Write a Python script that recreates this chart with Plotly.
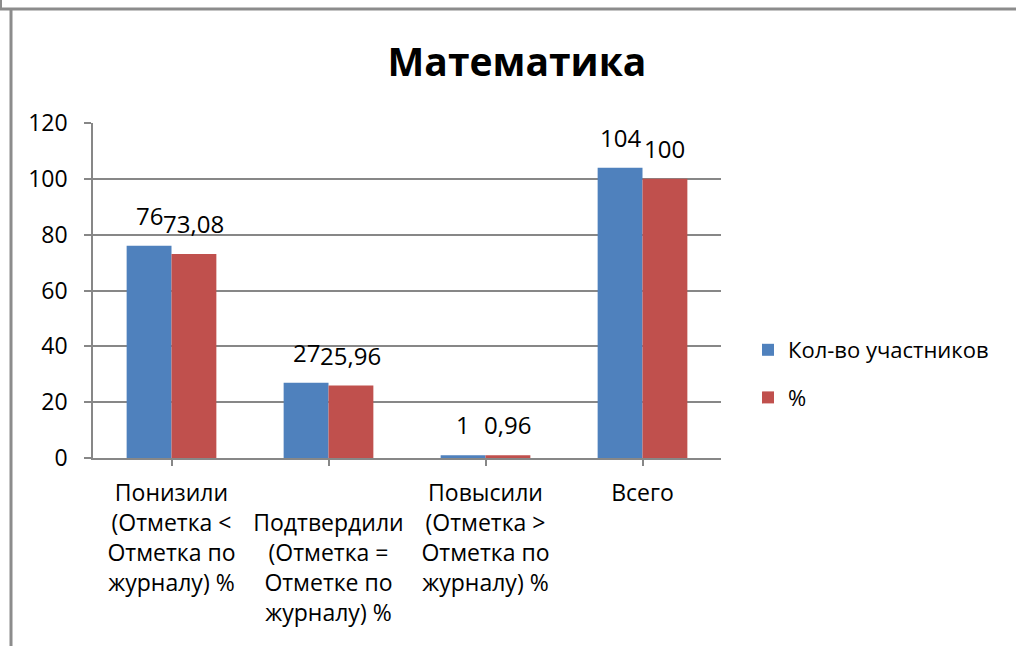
import plotly.graph_objects as go

# Chart data
categories = [
    "Понизили<br>(Отметка <<br>Отметка по<br>журналу) %",
    "\u00a0<br>Подтвердили<br>(Отметка =<br>Отметке по<br>журналу) %",
    "Повысили<br>(Отметка ><br>Отметка по<br>журналу) %",
    "Всего",
]
participants = [76, 27, 1, 104]
percent = [73.08, 25.96, 0.96, 100]
series_names = ["Кол-во участников", "%"]
y_ticks = [0, 20, 40, 60, 80, 100, 120]

FONT = "Open Sans"
GRID = "#878787"
BLUE = "#4F81BD"
RED = "#C0504D"
BARGAP = 1.5 / 3.5


def fmt(v):
    return f"{v:g}".replace(".", ",")


x_idx = list(range(len(categories)))

fig = go.Figure()
fig.add_trace(go.Bar(
    x=x_idx, y=participants, name=series_names[0],
    marker=dict(color=BLUE, line=dict(width=0)),
    legendgroup="a",
))
fig.add_trace(go.Bar(
    x=x_idx, y=percent, name=series_names[1],
    marker=dict(color=RED, line=dict(width=0)),
    legendgroup="b",
))

# value labels above each bar (half a bar width either side of the category)
half = (1 - BARGAP) / 4
for series, off in ((participants, -half), (percent, half)):
    for i, v in zip(x_idx, series):
        fig.add_annotation(
            x=i + off, y=v, xref="x", yref="y", text=fmt(v),
            showarrow=False, xanchor="center", yanchor="bottom", yshift=12,
            font=dict(family=FONT, size=24, color="#000000"),
        )

# plot area spans x 93..721, y 123..458 px
px_w, px_h = 721 - 93, 458 - 123


def xp(p):
    return (p - 93) / px_w


def yp(p):
    return (458 - p) / px_h


fig.update_layout(
    width=1016, height=646,
    margin=dict(l=93, r=1016 - 721, t=123, b=646 - 458, autoexpand=False),
    paper_bgcolor="white", plot_bgcolor="white",
    barmode="group", bargap=BARGAP, bargroupgap=0,
    font=dict(family=FONT, size=22, color="#000000"),
    title=dict(text="<b>Математика</b>", x=517 / 1016, xanchor="center",
               y=1 - 62 / 646, yanchor="middle",
               font=dict(family=FONT, size=39, color="#000000")),
    xaxis=dict(
        tickmode="array", tickvals=x_idx, ticktext=categories,
        range=[-0.5, len(categories) - 0.5],
        tickson="boundaries", ticks="outside", ticklen=6, tickwidth=1.5,
        tickcolor=GRID, showline=True, linecolor=GRID, linewidth=1.5,
        showgrid=False, ticklabelstandoff=8,
        tickfont=dict(family=FONT, size=23, color="#000000"),
    ),
    yaxis=dict(
        range=[0, 120], tickmode="array", tickvals=y_ticks,
        ticks="outside", ticklen=7, tickwidth=1.5, tickcolor=GRID,
        showline=True, linecolor=GRID, linewidth=1.5,
        showgrid=True, gridcolor=GRID, gridwidth=1.5, zeroline=False,
        ticklabelstandoff=12,
        tickfont=dict(family=FONT, size=23, color="#000000"),
    ),
    legend=dict(
        x=xp(748), y=yp(329), xanchor="left", yanchor="top",
        font=dict(family=FONT, size=22, color="#000000"),
        tracegroupgap=16, bgcolor="rgba(0,0,0,0)",
    ),
    showlegend=True,
)

# outer frame edges of the chart area
fig.add_shape(type="line", xref="paper", yref="paper",
              x0=xp(0), x1=xp(1016), y0=yp(9), y1=yp(9),
              line=dict(color="#8c8c8c", width=3))
fig.add_shape(type="line", xref="paper", yref="paper",
              x0=xp(11), x1=xp(11), y0=yp(9), y1=yp(646),
              line=dict(color="#8c8c8c", width=3))
fig.add_shape(type="line", xref="paper", yref="paper",
              x0=xp(1), x1=xp(1), y0=yp(0), y1=yp(9),
              line=dict(color="#8c8c8c", width=2))

fig.write_html("out.html")
